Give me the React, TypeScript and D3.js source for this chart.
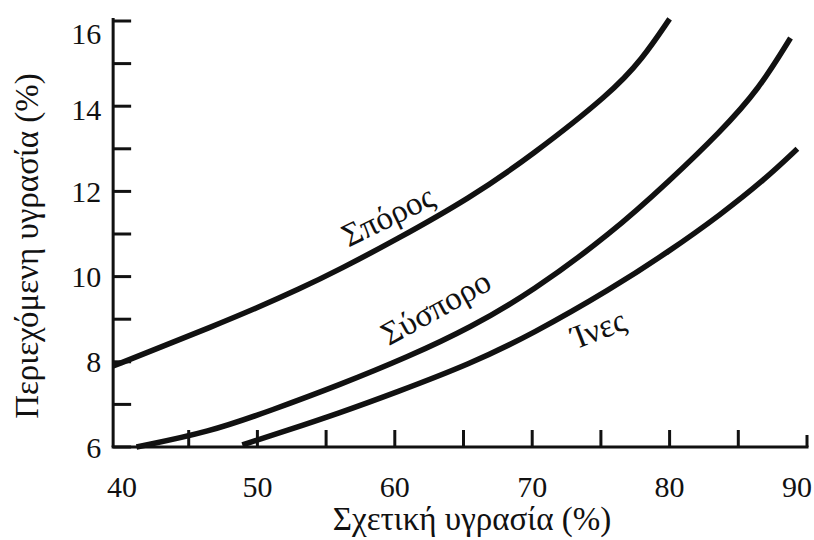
import React from 'react';
import * as d3 from 'd3';

// curves: relative humidity (%) -> moisture content (%)
const seedRh = [39.5, 43, 46.5, 50, 53, 56, 60, 65.5, 70, 75.7, 78, 80];
const seedMc = [7.9, 8.35, 8.8, 9.27, 9.7, 10.17, 10.85, 11.85, 12.85, 14.3, 15.1, 16.05];

const wholeRh = [41.2, 46.5, 51, 56, 61, 65.5, 70, 75.7, 80, 83.7, 86.5, 88.8];
const wholeMc = [6.0, 6.35, 6.86, 7.46, 8.12, 8.8, 9.65, 11.0, 12.25, 13.4, 14.4, 15.6];

const fibreRh = [48.9, 52, 56, 60, 65.5, 70, 75.7, 80, 83.7, 87, 89.3];
const fibreMc = [6.05, 6.37, 6.8, 7.27, 7.95, 8.65, 9.7, 10.6, 11.45, 12.3, 13.0];

const seriesNames = ['Σπόρος', 'Σύσπορο', 'Ίνες'];
// where each name sits along its curve (rh, mc) and its tilt
const labelRh = [59.6, 63.1, 74.9];
const labelMc = [11.35, 9.2, 8.7];
const labelAngle = [-26, -29, -21];

const xTickLabels = [40, 50, 60, 70, 80, 90];
const xMinorTicks = [45, 50, 55, 60, 65, 70, 75, 80, 85, 90];
const yTickLabels = [6, 8, 10, 12, 14, 16];
const yMinorTicks = [6, 7, 8, 9, 10, 11, 12, 13, 14, 15, 16];

const xTitle = 'Σχετική υγρασία (%)';
const yTitle = 'Περιεχόμενη υγρασία (%)';

export default function App() {
    const width = 814;
    const height = 540;
    const font = { fontFamily: "'Liberation Serif', 'Times New Roman', 'DejaVu Serif', serif" };
    const ink = '#111';

    const xScale = d3.scaleLinear().domain([40, 90]).range([120, 807]);
    const yScale = d3.scaleLinear().domain([6, 16]).range([447, 21]);

    const series = [
        d3.zip(seedRh, seedMc),
        d3.zip(wholeRh, wholeMc),
        d3.zip(fibreRh, fibreMc),
    ];

    const line = d3.line<number[]>()
        .x(d => xScale(d[0]))
        .y(d => yScale(d[1]))
        .curve(d3.curveBasis);

    const axisLeft = xScale(39.5);
    const axisBottom = yScale(6);
    const axisTop = yScale(16) - 3;

    // end labels sit a little inside the ticks, as in the source
    const xLabelShift = (t: number) => (t === 40 ? 2 : t === 90 ? -10 : 0);

    return (
        <svg
            width={width}
            height={height}
            style={{ position: 'absolute', left: 0, top: 0, background: '#fff' }}
        >
            {/* Y axis */}
            <g className="y-axis">
                <line x1={axisLeft} y1={axisTop} x2={axisLeft} y2={axisBottom} stroke={ink} strokeWidth="3" />
                {yMinorTicks.map(t => (
                    <line key={t} x1={axisLeft} y1={yScale(t)} x2={axisLeft + 18} y2={yScale(t)} stroke={ink} strokeWidth="3" />
                ))}
                {yTickLabels.map(t => (
                    <text
                        key={t}
                        x={axisLeft - 12}
                        y={yScale(t) + (t === 16 ? 12 : t === 14 ? 3 : 0)}
                        dy="0.35em"
                        textAnchor="end"
                        style={font}
                        fontSize="30"
                        fill={ink}
                    >
                        {t}
                    </text>
                ))}
                <text
                    transform={`translate(38, 246) rotate(-90)`}
                    textAnchor="middle"
                    style={font}
                    fontSize="33"
                    fill={ink}
                >
                    {yTitle}
                </text>
            </g>

            {/* X axis */}
            <g className="x-axis">
                <line x1={axisLeft - 1.5} y1={axisBottom} x2={xScale(90) + 1.5} y2={axisBottom} stroke={ink} strokeWidth="3" />
                {xMinorTicks.map(t => (
                    <line
                        key={t}
                        x1={xScale(t)}
                        y1={axisBottom}
                        x2={xScale(t)}
                        y2={axisBottom - (t === 90 ? 12 : 17)}
                        stroke={ink}
                        strokeWidth="3"
                    />
                ))}
                {xTickLabels.map(t => (
                    <text
                        key={t}
                        x={xScale(t) + xLabelShift(t)}
                        y={axisBottom + 50}
                        textAnchor="middle"
                        style={font}
                        fontSize="30"
                        fill={ink}
                    >
                        {t}
                    </text>
                ))}
                <text
                    x={472}
                    y={530}
                    textAnchor="middle"
                    style={font}
                    fontSize="33"
                    fill={ink}
                >
                    {xTitle}
                </text>
            </g>

            {/* Curves */}
            {series.map((s, i) => (
                <path
                    key={seriesNames[i]}
                    d={line(s) ?? ''}
                    fill="none"
                    stroke={ink}
                    strokeWidth="5.5"
                />
            ))}

            {/* Curve names */}
            {seriesNames.map((name, i) => (
                <text
                    key={name}
                    transform={`translate(${xScale(labelRh[i])}, ${yScale(labelMc[i])}) rotate(${labelAngle[i]})`}
                    textAnchor="middle"
                    dominantBaseline="middle"
                    style={font}
                    fontSize="33"
                    fill={ink}
                >
                    {name}
                </text>
            ))}
        </svg>
    );
}
